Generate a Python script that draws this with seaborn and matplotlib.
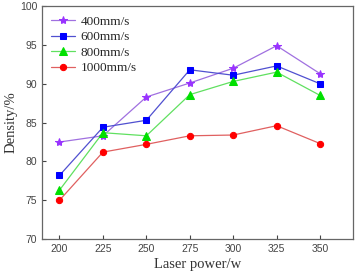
import pandas as pd
import matplotlib
matplotlib.use("Agg")
import matplotlib.pyplot as plt
import seaborn as sns

power = [200, 225, 250, 275, 300, 325, 350]
d400 = [82.5, 83.3, 88.3, 90.1, 92.0, 94.9, 91.3]
d600 = [78.2, 84.4, 85.3, 91.8, 91.1, 92.3, 90.0]
d800 = [76.3, 83.7, 83.3, 88.6, 90.3, 91.5, 88.5]
d1000 = [75.0, 81.2, 82.2, 83.3, 83.4, 84.6, 82.3]
speeds = ["400mm/s", "600mm/s", "800mm/s", "1000mm/s"]

df = pd.DataFrame({"power": power * 4,
                   "density": d400 + d600 + d800 + d1000,
                   "speed": [s for s in speeds for _ in power]})

sns.set_style("ticks")
plt.rcParams['font.family'] = ['Liberation Sans', 'DejaVu Sans']

fig = plt.figure(figsize=(3.57, 2.78), dpi=100)
ax = fig.add_axes([0.118, 0.14, 0.871, 0.838])

line_cols = ["#a070e0", "#5050d0", "#60e060", "#e06060"]
mark_cols = ["#9933ff", "#0000ff", "#00e000", "#ff0000"]
markers = ["*", "s", "^", "o"]
msizes = [6, 4.5, 5.5, 4.5]

for s, lc, mc, m, ms in zip(speeds, line_cols, mark_cols, markers, msizes):
    sns.lineplot(data=df[df["speed"] == s], x="power", y="density", ax=ax,
                 color=lc, marker=m, markersize=ms, markerfacecolor=mc,
                 markeredgecolor=mc, linewidth=0.9, label=s)

ax.set_xlim(190, 369)
ax.set_ylim(70, 100)
ax.set_xticks(power)
ax.set_yticks([70, 75, 80, 85, 90, 95, 100])
ax.tick_params(direction="in", length=3, labelsize=7.5, colors="#444444",
               width=0.8)
for sp in ax.spines.values():
    sp.set_color("#666666")
    sp.set_linewidth(0.9)

ax.set_xlabel("Laser power/w", family="Liberation Serif", fontsize=10.5,
              color="#333333", labelpad=3)
ax.set_ylabel("Density/%", family="Liberation Serif", fontsize=10.5,
              color="#333333", labelpad=2)

leg = ax.legend(loc="upper left", frameon=False, handlelength=1.8,
                handletextpad=0.4, labelspacing=0.25, borderaxespad=0.3,
                prop={"family": "Liberation Serif", "size": 9.5})

fig.savefig("out.png", dpi=100)
